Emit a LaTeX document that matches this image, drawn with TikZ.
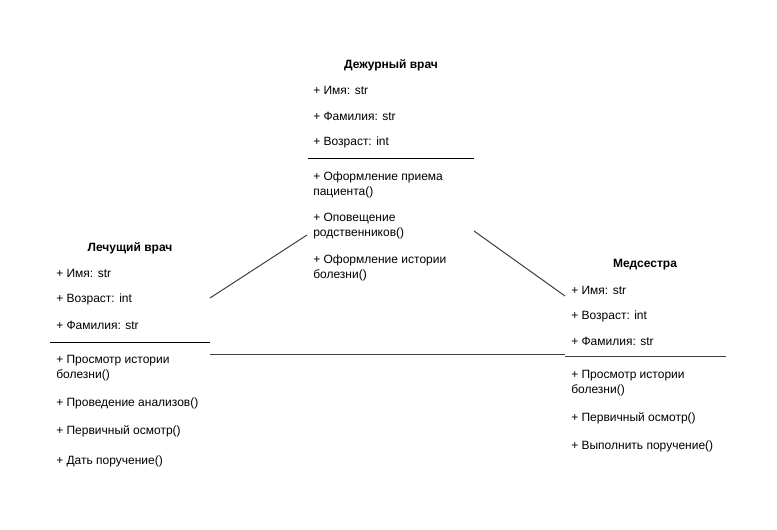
\documentclass[tikz,border=0pt]{standalone}
\usepackage{fontspec}
\setmainfont{Liberation Sans}
\begin{document}
\begin{tikzpicture}[x=0.75pt,y=-0.75pt,
  txt/.style={anchor=west,inner sep=0pt,align=left,yshift=-1pt,font=\fontsize{9}{11.25}\selectfont},
  ttl/.style={anchor=center,inner sep=0pt,yshift=-1pt,font=\fontsize{9}{11.25}\selectfont\bfseries},
  sep/.style={line width=0.75pt,black},
  conn/.style={line width=0.75pt,black!75}]
\useasboundingbox[fill=white] (0,0) rectangle (777,529);
% Дежурный врач
\node[ttl] (d-t) at (391,64) {Дежурный врач};
\node[txt] (d-a1) at (313,89) {+ Имя: str};
\node[txt] (d-a2) at (313,115) {+ Фамилия: str};
\node[txt] (d-a3) at (313,141) {+ Возраст: int};
\coordinate (d-sl) at (308,158);
\coordinate (d-sr) at (474,158);
\draw[sep] (d-sl) -- (d-sr);
\node[txt] (d-m1) at (313,183.5) {+ Оформление приема\\пациента()};
\node[txt] (d-m2) at (313,224.5) {+ Оповещение\\родственников()};
\node[txt] (d-m3) at (313,266.5) {+ Оформление истории\\болезни()};
\coordinate (d-l) at (307,235);
\coordinate (d-r) at (474,231);
% Лечущий врач
\node[ttl] (l-t) at (130,247) {Лечущий врач};
\node[txt] (l-a1) at (56,272) {+ Имя: str};
\node[txt] (l-a2) at (56,298) {+ Возраст: int};
\node[txt] (l-a3) at (56,324) {+ Фамилия: str};
\coordinate (l-sl) at (50,342);
\coordinate (l-sr) at (210,342);
\draw[sep] (l-sl) -- (l-sr);
\node[txt] (l-m1) at (56,366.5) {+ Просмотр истории\\болезни()};
\node[txt] (l-m2) at (56,402) {+ Проведение анализов()};
\node[txt] (l-m3) at (56,430) {+ Первичный осмотр()};
\node[txt] (l-m4) at (56,460) {+ Дать поручение()};
\coordinate (l-r) at (210,298);
\coordinate (l-b) at (210,354);
% Медсестра
\node[ttl] (m-t) at (645,263) {Медсестра};
\node[txt] (m-a1) at (571,289) {+ Имя: str};
\node[txt] (m-a2) at (571,315) {+ Возраст: int};
\node[txt] (m-a3) at (571,340) {+ Фамилия: str};
\coordinate (m-sl) at (565,356);
\coordinate (m-sr) at (726,356);
\draw[conn] (m-sl) -- (m-sr);
\node[txt] (m-m1) at (571,381.5) {+ Просмотр истории\\болезни()};
\node[txt] (m-m2) at (571,417) {+ Первичный осмотр()};
\node[txt] (m-m3) at (571,445) {+ Выполнить поручение()};
\coordinate (m-l) at (565,296);
\coordinate (m-b) at (565,354);
% connectors
\draw[conn] (l-r) -- (d-l);
\draw[conn] (d-r) -- (m-l);
\draw[conn] (l-b) -- (m-b);
\end{tikzpicture}
\end{document}
